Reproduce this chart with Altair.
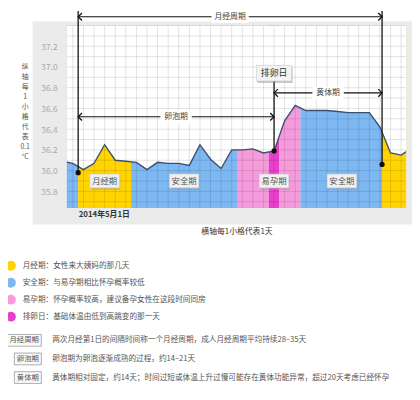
import altair as alt
import pandas as pd

W, H = 346, 186
FONT = "Noto Sans CJK SC"

# ---- data ----
days = list(range(34))
temps = [36.09, 36.07, 36.01, 36.07, 36.25, 36.10, 36.09, 36.08, 36.01, 36.08,
         36.07, 36.07, 36.05, 36.25, 36.11, 36.02, 36.20, 36.20, 36.21, 36.17,
         36.19, 36.48, 36.63, 36.58, 36.58, 36.58, 36.57, 36.56, 36.56, 36.56,
         36.42, 36.17, 36.15, 36.22]

phase_names = ["安全期", "月经期", "安全期", "易孕期", "排卵日", "易孕期", "安全期", "月经期"]
phase_start = [0, 1.5, 6.5, 16.5, 19.5, 20.5, 22.5, 30.2]
phase_end = [1.5, 6.5, 16.5, 19.5, 20.5, 22.5, 30.2, 34]

legend_phase = ["月经期", "安全期", "易孕期", "排卵日"]
legend_phase_desc = ["女性来大姨妈的那几天", "与易孕期相比怀孕概率较低",
                     "怀孕概率较高，建议备孕女性在这段时间同房", "基础体温由低到高跳变的那一天"]
phase_colors = ["#FFD400", "#7DB8F2", "#F59BDC", "#E93FCB"]

band_label_text = ["月经期", "安全期", "易孕期", "安全期"]
band_label_day = [4, 11.5, 20, 26.4]
band_label_temp = [35.9, 35.9, 35.9, 35.9]

span_names = ["月经周期", "卵泡期", "黄体期"]
span_from = [1.5, 1.5, 20]
span_to = [30.2, 20, 30.2]
span_temp = [37.485, 36.52, 36.75]

marker_day = [1.5, 20, 30.2]
marker_top = [37.54, 36.87, 37.54]
marker_temp = [35.98, 36.19, 36.06]

ovulation_label = ["排卵日"]
ovulation_day = [20]
ovulation_label_temp = [36.94]

term_tags = ["月经周期", "卵泡期", "黄体期"]
term_desc = ["两次月经第1日的间隔时间称一个月经周期，成人月经周期平均持续28–35天",
             "卵泡期为卵泡逐渐成熟的过程，约14–21天",
             "黄体期相对固定，约14天；时间过短或体温上升过慢可能存在黄体功能异常，超过20天考虑已经怀孕"]

y_ticks = [35.8, 36.0, 36.2, 36.4, 36.6, 36.8, 37.0, 37.2]
y_top = 37.4
x_tick_days = [1.5]
x_tick_labels = ["2014年5月1日"]
y_title = ["纵", "轴", "每", "1", "小", "格", "代", "表", "0.1", "°C"]
x_title = "横轴每1小格代表1天"

# ---- scales / axes ----
xscale = alt.Scale(domain=[0.43, 32.47], nice=False, zero=False)
yscale = alt.Scale(domain=[35.64, y_top], nice=False, zero=False)
label_expr = " : ".join(f"datum.value == {d} ? '{t}'" for d, t in zip(x_tick_days, x_tick_labels)) + " : ''"

xaxis = alt.Axis(values=x_tick_days, labelExpr=label_expr, title=x_title, grid=False,
                 domain=False, ticks=False, labelAlign="left", labelFontSize=8,
                 labelColor="#333", labelFontWeight="bold", labelPadding=3,
                 labelFont=FONT, titleFont=FONT, titleFontSize=8, titleColor="#333",
                 titleFontWeight="normal", titleY=24, titleBaseline="middle", zindex=1)
yaxis = alt.Axis(values=y_ticks, format=".1f", grid=False, domain=False, ticks=False,
                 labelColor="#a8a8a8", labelFontSize=8.5, labelPadding=10, labelFont=FONT,
                 title=y_title, titleAngle=0, titleX=-43, titleY=38, titleAlign="center",
                 titleBaseline="top", titleLineHeight=10.2, titleFontSize=7, titleColor="#555",
                 titleFontWeight="normal", titleFont=FONT, zindex=1)


def X(f):
    return alt.X(f, type="quantitative", scale=xscale, axis=xaxis)


def Y(f):
    return alt.Y(f, type="quantitative", scale=yscale, axis=yaxis)


temp_df = pd.DataFrame({"day": days, "temp": temps})
phase_df = pd.DataFrame({"phase": phase_names, "start": phase_start, "end": phase_end})
band_lbl_df = pd.DataFrame({"t": band_label_text, "d": band_label_day, "y": band_label_temp})
span_df = pd.DataFrame({"name": span_names, "a": span_from, "b": span_to, "y": span_temp})
span_df["mid"] = (span_df["a"] + span_df["b"]) / 2
marker_df = pd.DataFrame({"d": marker_day, "top": marker_top, "bot": marker_temp})
ov_df = pd.DataFrame({"t": ovulation_label, "d": ovulation_day, "y": ovulation_label_temp})
one = pd.DataFrame({"k": [0]})

# panel background
panel = alt.Chart(one).mark_rect(fill="#ebebeb").encode(
    x=alt.value(-35), x2=alt.value(W + 6), y=alt.value(-4), y2=alt.value(203))

bands = alt.Chart(phase_df).mark_rect(clip=True).encode(
    x=X("start"), x2=alt.X2("end"), y=alt.value(0), y2=alt.value(H),
    color=alt.Color("phase:N", scale=alt.Scale(domain=legend_phase, range=phase_colors), legend=None))

# white above the temperature line, so the colours only sit under it
white = alt.Chart(temp_df).mark_area(color="white", clip=True).encode(
    x=X("day"), y=Y("temp"), y2=alt.Y2(datum=y_top))

grid_v = alt.Chart(pd.DataFrame({"g": list(range(0, 34))})).mark_rule(
    color="#000", opacity=0.14, strokeWidth=0.8, clip=True).encode(x=X("g"))
grid_h = alt.Chart(pd.DataFrame({"gy": [round(35.7 + 0.1 * i, 1) for i in range(18)]})).mark_rule(
    color="#000", opacity=0.14, strokeWidth=0.8, clip=True).encode(y=Y("gy"))

line = alt.Chart(temp_df).mark_line(color="#3b4f6e", strokeWidth=1.4, clip=True).encode(
    x=X("day"), y=Y("temp"))

# band labels
bl_shadow = alt.Chart(band_lbl_df).mark_rect(
    xOffset=-14, x2Offset=16, yOffset=-6, y2Offset=9, fill="#9a9a9a", opacity=0.45).encode(
    x=X("d"), x2="d", y=Y("y"), y2="y")
bl_box = alt.Chart(band_lbl_df).mark_rect(
    xOffset=-15, x2Offset=15, yOffset=-7, y2Offset=7, fill="#f0f0f0", stroke="#d5d5d5",
    strokeWidth=0.6).encode(x=X("d"), x2="d", y=Y("y"), y2="y")
bl_text = alt.Chart(band_lbl_df).mark_text(fontSize=8.5, color="#555", font=FONT).encode(
    x=X("d"), y=Y("y"), text="t:N")

# vertical marker lines
vlines = alt.Chart(marker_df).mark_rule(color="#111", strokeWidth=1.3).encode(
    x=X("d"), y=Y("top"), y2="bot")

# span arrows
span_line = alt.Chart(span_df).mark_rule(color="#111", strokeWidth=1.2).encode(
    x=X("a"), x2="b", y=Y("y"))
head_l = alt.Chart(span_df).mark_point(shape="M1,-1L0,0L1,1", size=60, filled=False,
                                       color="#111", strokeWidth=1.3, opacity=1).encode(
    x=X("a"), y=Y("y"))
head_r = alt.Chart(span_df).mark_point(shape="M-1,-1L0,0L-1,1", size=60, filled=False,
                                       color="#111", strokeWidth=1.3, opacity=1).encode(
    x=X("b"), y=Y("y"))
span_box4 = alt.Chart(span_df).transform_filter("length(datum.name) == 4").mark_rect(
    xOffset=-19, x2Offset=19, yOffset=-6.5, y2Offset=6.5, fill="white").encode(
    x=X("mid"), x2="mid", y=Y("y"), y2="y")
span_box3 = alt.Chart(span_df).transform_filter("length(datum.name) == 3").mark_rect(
    xOffset=-16, x2Offset=16, yOffset=-6.5, y2Offset=6.5, fill="white").encode(
    x=X("mid"), x2="mid", y=Y("y"), y2="y")
span_text = alt.Chart(span_df).mark_text(fontSize=8, color="#444", font=FONT).encode(
    x=X("mid"), y=Y("y"), text="name:N")

# ovulation label
ov_shadow = alt.Chart(ov_df).mark_rect(
    xOffset=-17, x2Offset=19, yOffset=-6, y2Offset=10, fill="#888", opacity=0.45).encode(
    x=X("d"), x2="d", y=Y("y"), y2="y")
ov_box = alt.Chart(ov_df).mark_rect(
    xOffset=-18, x2Offset=18, yOffset=-8, y2Offset=8, fill="#f3f3f3", stroke="#c8c8c8",
    strokeWidth=0.6).encode(x=X("d"), x2="d", y=Y("y"), y2="y")
ov_text = alt.Chart(ov_df).mark_text(fontSize=9, color="#333", font=FONT).encode(
    x=X("d"), y=Y("y"), text="t:N")

dots = alt.Chart(marker_df).mark_circle(size=28, color="#111", opacity=1).encode(
    x=X("d"), y=Y("bot"))

# legend (below the plot)
leg1_df = pd.DataFrame({"name": legend_phase, "desc": legend_phase_desc, "c": phase_colors,
                        "row": list(range(len(legend_phase)))})
leg1_base = alt.Chart(leg1_df).transform_calculate(
    py="245 + datum.row * 17.3", label="datum.name + '：' + datum.desc")
leg1_dot = leg1_base.mark_circle(size=100, opacity=1).encode(
    x=alt.value(-57), y=alt.Y("py:Q", scale=None, axis=None),
    color=alt.Color("c:N", scale=None, legend=None))
leg1_text = leg1_base.mark_text(align="left", baseline="middle", fontSize=7.8, color="#555",
                                font=FONT).encode(
    x=alt.value(-45), y=alt.Y("py:Q", scale=None, axis=None), text="label:N")

leg2_df = pd.DataFrame({"tag": term_tags, "desc": term_desc, "row": list(range(len(term_tags)))})
leg2_base = alt.Chart(leg2_df).transform_calculate(
    py="321 + datum.row * 19",
    py1="321 + datum.row * 19 - 6",
    py2="321 + datum.row * 19 + 6",
    bx="-26 - (length(datum.tag) * 7.5 + 5)",
    tx="-26 - (length(datum.tag) * 7.5 + 5) / 2")
leg2_box = leg2_base.mark_rect(fill="#fafafa", stroke="#999", strokeWidth=0.8).encode(
    x=alt.X("bx:Q", scale=None, axis=None), x2=alt.value(-26),
    y=alt.Y("py1:Q", scale=None, axis=None), y2=alt.Y2("py2:Q"))
leg2_tag = leg2_base.mark_text(fontSize=7.5, color="#555", font=FONT, baseline="middle").encode(
    x=alt.X("tx:Q", scale=None, axis=None), y=alt.Y("py:Q", scale=None, axis=None), text="tag:N")
leg2_text = leg2_base.mark_text(align="left", baseline="middle", fontSize=7.8, color="#555",
                                font=FONT).encode(
    x=alt.value(-15), y=alt.Y("py:Q", scale=None, axis=None), text="desc:N")

chart = alt.layer(
    panel, bands, white, grid_v, grid_h, line,
    bl_shadow, bl_box, bl_text,
    vlines, span_line, head_l, head_r, span_box4, span_box3, span_text,
    ov_shadow, ov_box, ov_text, dots,
    leg1_dot, leg1_text, leg2_box, leg2_tag, leg2_text,
).properties(
    width=W, height=H,
    autosize=alt.AutoSizeParams(type="none"),
    padding={"left": 60, "top": 14, "right": 6, "bottom": 192},
).configure_view(stroke=None).configure(font=FONT)

chart.save("out.html", embed_options={"renderer": "svg", "actions": False})
